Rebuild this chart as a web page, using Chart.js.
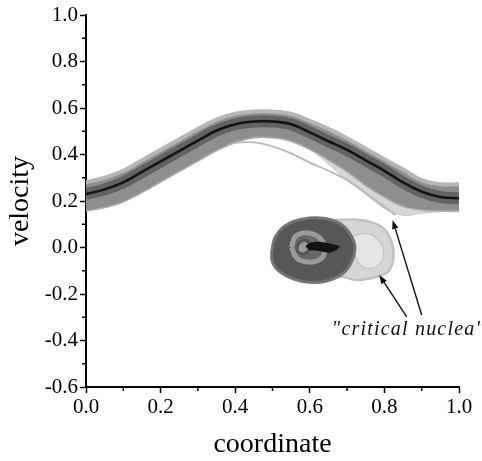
<!DOCTYPE html>
<html>
<head>
<meta charset="utf-8">
<script src="https://cdn.jsdelivr.net/npm/chart.js@4/dist/chart.umd.min.js"></script>
<style>
  html, body { margin: 0; padding: 0; background: #fff; }
  canvas { display: block; }
</style>
</head>
<body>
<canvas id="phase" width="482" height="461"></canvas>
<script>
// Phase portrait: velocity vs coordinate

// coordinate grid for the running trajectories
const coordGrid     = [0, 0.05, 0.10, 0.15, 0.20, 0.25, 0.30, 0.35, 0.40, 0.45, 0.50,
                       0.55, 0.60, 0.65, 0.70, 0.75, 0.80, 0.85, 0.90, 0.95, 1.00];
// central (black) trajectory
const mainVelocity  = [0.230, 0.250, 0.280, 0.325, 0.370, 0.415, 0.460, 0.503, 0.530, 0.542, 0.542,
                       0.530, 0.495, 0.457, 0.420, 0.375, 0.330, 0.280, 0.240, 0.217, 0.212];
// envelope of the bundle of running trajectories
const bundleUpper   = [0.280, 0.300, 0.330, 0.375, 0.420, 0.465, 0.510, 0.550, 0.575, 0.585, 0.585,
                       0.575, 0.545, 0.510, 0.470, 0.425, 0.380, 0.335, 0.290, 0.272, 0.272];
const bundleLower   = [0.160, 0.175, 0.200, 0.240, 0.285, 0.330, 0.375, 0.420, 0.455, 0.475, 0.475,
                       0.460, 0.425, 0.380, 0.330, 0.270, 0.220, 0.180, 0.165, 0.160, 0.160];
// lagging trajectories below the bundle
const fringeLower   = [0.160, 0.175, 0.200, 0.240, 0.285, 0.330, 0.375, 0.420, 0.455, 0.475, 0.475,
                       0.460, 0.425, 0.360, 0.290, 0.230, 0.170, 0.140, 0.148, 0.155, 0.155];
// single faint trajectory that separates from the bundle
const faintCoord    = [0.30, 0.35, 0.40, 0.45, 0.50, 0.55, 0.60, 0.65, 0.70, 0.75, 0.80, 0.83];
const faintVelocity = [0.390, 0.432, 0.450, 0.452, 0.435, 0.405, 0.365, 0.330, 0.290, 0.235, 0.175, 0.140];

// trapped (oscillating) trajectories around the well minimum
const halo1Coord    = [0.620, 0.662, 0.720, 0.761, 0.797, 0.819, 0.824, 0.810, 0.779, 0.725, 0.689, 0.650, 0.620];
const halo1Velocity = [0.125, 0.118, 0.120, 0.111, 0.083, 0.025, -0.046, -0.104, -0.126, -0.140, -0.126, -0.120, 0.125];
const halo2Coord    = [0.715, 0.755, 0.785, 0.798, 0.790, 0.765, 0.735, 0.718, 0.715];
const halo2Velocity = [0.050, 0.060, 0.030, -0.020, -0.065, -0.090, -0.075, -0.015, 0.050];
const coreCoord     = [0.497, 0.506, 0.537, 0.582, 0.636, 0.680, 0.707, 0.721, 0.712, 0.689, 0.645, 0.600, 0.555, 0.519, 0.501, 0.497];
const coreVelocity  = [-0.032, 0.040, 0.097, 0.123, 0.126, 0.104, 0.061, 0.003, -0.061, -0.111, -0.144, -0.150, -0.135, -0.104, -0.068, -0.032];
const ringCoord     = [0.551, 0.560, 0.580, 0.605, 0.628, 0.640, 0.635, 0.615, 0.590, 0.565, 0.551];
const ringVelocity  = [0.000, 0.045, 0.062, 0.060, 0.040, 0.000, -0.040, -0.060, -0.062, -0.045, 0.000];
const eyeCoord      = [0.566, 0.575, 0.590, 0.600, 0.596, 0.582, 0.568, 0.566];
const eyeVelocity   = [0.005, 0.025, 0.030, 0.012, -0.015, -0.028, -0.018, 0.005];
const centreCoord   = [0.588, 0.600, 0.620, 0.645, 0.680, 0.655, 0.625, 0.600, 0.588];
const centreVelocity= [0.005, 0.020, 0.025, 0.020, 0.003, -0.022, -0.015, -0.012, 0.005];

// axis ticks
const xTickValues = [0, 0.2, 0.4, 0.6, 0.8, 1.0];
const yTickValues = [-0.6, -0.4, -0.2, 0, 0.2, 0.4, 0.6, 0.8, 1.0];

const zip = (xs, ys) => xs.map((v, i) => ({ x: v, y: ys[i] }));

const SERIF = '"Liberation Serif", "Times New Roman", serif';

const line = (data, extra) => Object.assign({
  data, showLine: true, pointRadius: 0, pointHoverRadius: 0,
  borderWidth: 0, borderColor: 'rgba(0,0,0,0)', backgroundColor: 'rgba(0,0,0,0)',
  fill: false, tension: 0.4
}, extra);

// smaller "order" is painted later (on top)
const datasets = [
  line(zip(coordGrid, mainVelocity),   { order: 1,  borderColor: '#141414', borderWidth: 2.6 }),
  line(zip(centreCoord, centreVelocity), { order: 2, fill: 'shape', backgroundColor: '#151515', tension: 0.3 }),
  line(zip(eyeCoord, eyeVelocity),     { order: 3,  fill: 'shape', backgroundColor: '#9c9c9c', borderColor: '#555', borderWidth: 3 }),
  line(zip(ringCoord, ringVelocity),   { order: 4,  fill: 'shape', backgroundColor: '#686868', borderColor: '#9a9a9a', borderWidth: 5 }),
  line(zip(coreCoord, coreVelocity),   { order: 5,  fill: 'shape', backgroundColor: '#575757', borderColor: '#737373', borderWidth: 3 }),
  line(zip(coordGrid, mainVelocity),   { order: 6,  borderColor: 'rgba(70,70,70,0.6)', borderWidth: 12 }),
  line(zip(coordGrid, bundleUpper),    { order: 8,  fill: '+1', backgroundColor: '#8e8e8e', borderColor: '#b6b6b6', borderWidth: 4 }),
  line(zip(coordGrid, bundleLower),    { order: 9,  fill: '+1', backgroundColor: '#d6d6d6', borderColor: '#ababab', borderWidth: 3 }),
  line(zip(coordGrid, fringeLower),    { order: 10, borderColor: '#cbcbcb', borderWidth: 1.5 }),
  line(zip(faintCoord, faintVelocity), { order: 8.5, borderColor: '#b8b8b8', borderWidth: 1.8 }),
  line(zip(halo2Coord, halo2Velocity), { order: 11, fill: 'shape', backgroundColor: '#e6e6e6', borderColor: '#c8c8c8', borderWidth: 1.5 }),
  line(zip(halo1Coord, halo1Velocity), { order: 12, fill: 'shape', backgroundColor: '#d6d6d6', borderColor: '#c2c2c2', borderWidth: 2.5 })
];

// short unlabelled ticks halfway between the labelled ones
const minorTicks = {
  id: 'minorTicks',
  afterDraw(chart) {
    const { ctx, chartArea: a } = chart;
    const { x, y } = chart.scales;
    const mids = ticks => ticks.slice(1).map((t, i) => (t.value + ticks[i].value) / 2);
    ctx.save();
    ctx.strokeStyle = '#000';
    ctx.lineWidth = 1.5;
    mids(x.ticks).forEach(v => {
      const px = x.getPixelForValue(v);
      ctx.beginPath(); ctx.moveTo(px, a.bottom); ctx.lineTo(px, a.bottom + 4); ctx.stroke();
    });
    mids(y.ticks).forEach(v => {
      const py = y.getPixelForValue(v);
      ctx.beginPath(); ctx.moveTo(a.left, py); ctx.lineTo(a.left - 4, py); ctx.stroke();
    });
    ctx.restore();
  }
};

// label with two arrows pointing at the separating trajectories
const nucleaNote = {
  text: '"critical nuclea"',
  at: { x: 0.659, y: -0.376 },
  arrows: [
    { from: { x: 0.860, y: -0.298 }, to: { x: 0.786, y: -0.118 } },
    { from: { x: 0.900, y: -0.290 }, to: { x: 0.822, y: 0.118 } }
  ]
};
const annotate = {
  id: 'annotate',
  afterDraw(chart) {
    const { ctx } = chart;
    const { x, y } = chart.scales;
    const P = p => [x.getPixelForValue(p.x), y.getPixelForValue(p.y)];
    ctx.save();
    ctx.strokeStyle = '#111';
    ctx.fillStyle = '#111';
    ctx.lineWidth = 1.4;
    nucleaNote.arrows.forEach(ar => {
      const [x0, y0] = P(ar.from), [x1, y1] = P(ar.to);
      const ang = Math.atan2(y1 - y0, x1 - x0);
      const hl = 9, hw = 3.2;
      const bx = x1 - hl * Math.cos(ang), by = y1 - hl * Math.sin(ang);
      ctx.beginPath(); ctx.moveTo(x0, y0); ctx.lineTo(bx, by); ctx.stroke();
      ctx.beginPath();
      ctx.moveTo(x1, y1);
      ctx.lineTo(bx + hw * Math.sin(ang), by - hw * Math.cos(ang));
      ctx.lineTo(bx - hw * Math.sin(ang), by + hw * Math.cos(ang));
      ctx.closePath(); ctx.fill();
    });
    const [tx, ty] = P(nucleaNote.at);
    ctx.font = 'italic 20px ' + SERIF;
    ctx.textAlign = 'left';
    ctx.textBaseline = 'alphabetic';
    if ('letterSpacing' in ctx) ctx.letterSpacing = '1.2px';
    ctx.fillText(nucleaNote.text, tx, ty);
    ctx.restore();
  }
};

new Chart(document.getElementById('phase'), {
  type: 'scatter',
  data: { datasets },
  options: {
    responsive: false,
    animation: false,
    events: [],
    layout: { padding: { top: 15, right: 23, left: 0, bottom: 0 } },
    plugins: { legend: { display: false }, tooltip: { enabled: false } },
    scales: {
      x: {
        type: 'linear', min: 0, max: 1,
        afterBuildTicks: s => { s.ticks = xTickValues.map(v => ({ value: v })); },
        afterFit: s => { s.height = 74; },
        ticks: { callback: v => v.toFixed(1), color: '#000', padding: 2,
                 font: { family: SERIF, size: 21 } },
        grid: { drawOnChartArea: false, drawTicks: true, tickLength: 6, tickWidth: 1.5, tickColor: '#000' },
        border: { display: true, color: '#000', width: 2 },
        title: { display: true, text: 'coordinate', color: '#000',
                 font: { family: SERIF, size: 28 }, padding: { top: 0, bottom: 0 } }
      },
      y: {
        type: 'linear', min: -0.6, max: 1.0,
        afterBuildTicks: s => { s.ticks = yTickValues.map(v => ({ value: v })); },
        afterFit: s => { s.width = 86; },
        ticks: { callback: v => v.toFixed(1), color: '#000', padding: 2,
                 font: { family: SERIF, size: 21 } },
        grid: { drawOnChartArea: false, drawTicks: true, tickLength: 6, tickWidth: 1.5, tickColor: '#000' },
        border: { display: true, color: '#000', width: 2 },
        title: { display: true, text: 'velocity', color: '#000',
                 font: { family: SERIF, size: 28 }, padding: { top: 4, bottom: 0 } }
      }
    }
  },
  plugins: [minorTicks, annotate]
});
</script>
</body>
</html>
